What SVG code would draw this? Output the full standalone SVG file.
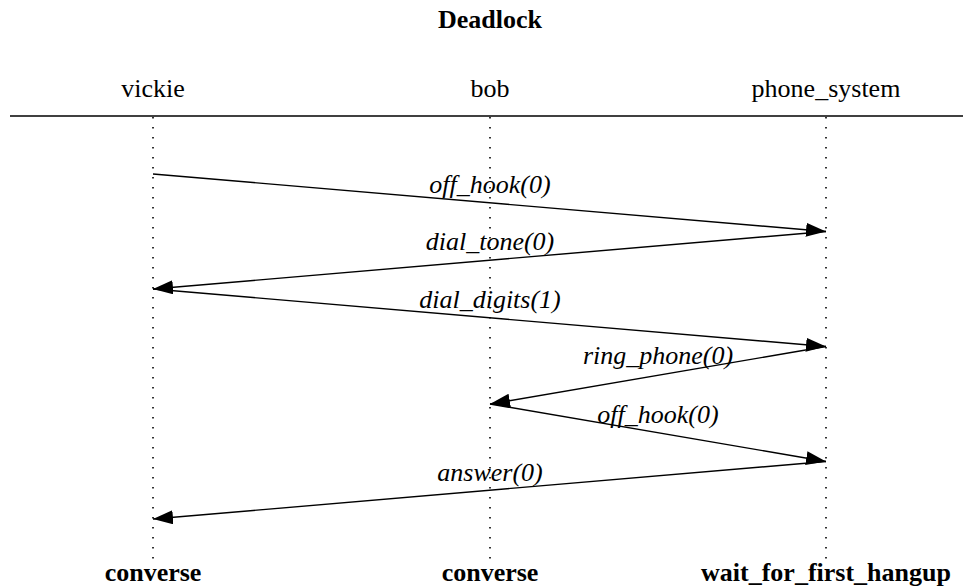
<svg xmlns="http://www.w3.org/2000/svg" width="963" height="588" viewBox="0 0 963 588">
<style>
text{font-family:"Liberation Serif","Times New Roman",serif;font-size:26px;fill:#000;text-anchor:middle}
.b{font-weight:bold}
.i{font-style:italic}
.life{stroke:#000;stroke-width:1.6;stroke-dasharray:1.6 8.4;fill:none}
.msg{stroke:#000;stroke-width:1.4;fill:none;marker-end:url(#ah)}
</style>
<defs>
<marker id="ah" markerUnits="userSpaceOnUse" markerWidth="22" markerHeight="14" refX="20" refY="7" orient="auto">
<path d="M0,0 L20,7 L0,14 Z" fill="#000"/>
</marker>
</defs>
<text class="b" x="490" y="28">Deadlock</text>
<line x1="10" y1="116" x2="963" y2="116" stroke="#000" stroke-width="1.6"/>
<g id="vickie">
<text x="153" y="97">vickie</text>
<line class="life" x1="153" y1="117" x2="153" y2="564"/>
<text class="b" x="153" y="581">converse</text>
</g>
<g id="bob">
<text x="490" y="97">bob</text>
<line class="life" x1="490" y1="117" x2="490" y2="564"/>
<text class="b" x="490" y="581">converse</text>
</g>
<g id="phone_system">
<text x="826" y="97">phone_system</text>
<line class="life" x1="826" y1="117" x2="826" y2="564"/>
<text class="b" x="826" y="581">wait_for_first_hangup</text>
</g>
<g id="connectors">
<line class="msg" x1="153" y1="174" x2="826" y2="231.5"/>
<text class="i" x="490" y="193">off_hook(0)</text>
<line class="msg" x1="826" y1="231.5" x2="153" y2="289"/>
<text class="i" x="490" y="250">dial_tone(0)</text>
<line class="msg" x1="153" y1="289" x2="826" y2="346.5"/>
<text class="i" x="490" y="308">dial_digits(1)</text>
<line class="msg" x1="826" y1="346.5" x2="490" y2="404"/>
<text class="i" x="658" y="364">ring_phone(0)</text>
<line class="msg" x1="490" y1="404" x2="826" y2="461.5"/>
<text class="i" x="658" y="423">off_hook(0)</text>
<line class="msg" x1="826" y1="461.5" x2="153" y2="519"/>
<text class="i" x="490" y="481">answer(0)</text>
</g>
</svg>
